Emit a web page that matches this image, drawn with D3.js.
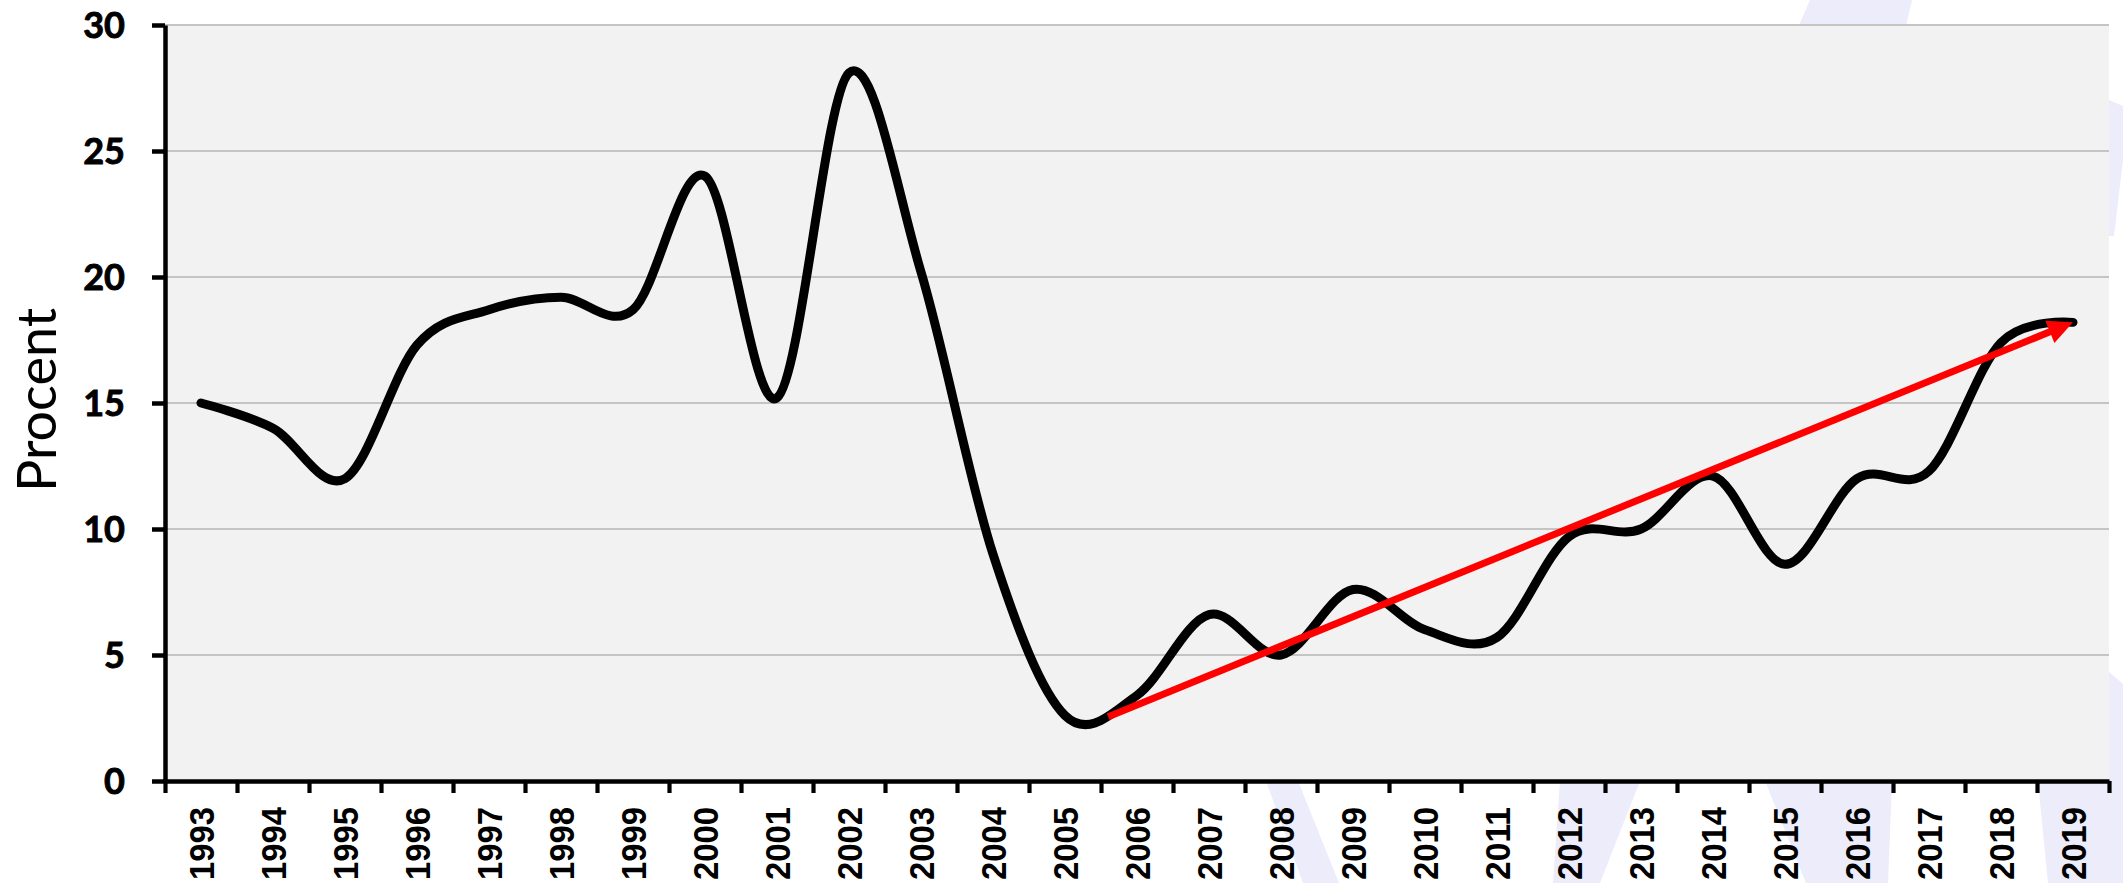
<!DOCTYPE html>
<html><head><meta charset="utf-8">
<script src="https://cdn.jsdelivr.net/npm/d3@7/dist/d3.min.js"></script>
<style>html,body{margin:0;padding:0;background:#fff;overflow:hidden}</style>
</head><body><svg id="chart" width="2123" height="883"></svg>
<script>
// ---- data ----
const years = [1993,1994,1995,1996,1997,1998,1999,2000,2001,2002,2003,2004,2005,2006,
               2007,2008,2009,2010,2011,2012,2013,2014,2015,2016,2017,2018,2019];
const values = [15.0,14.0,12.0,17.3,18.7,19.2,18.7,24.0,15.2,28.1,20.2,9.0,2.6,3.4,
                6.6,5.0,7.6,6.0,5.7,9.7,10.0,12.1,8.6,12.0,12.3,17.4,18.2];
const yTicks = [0,5,10,15,20,25,30];
const trendStart = {year: 2005.6, value: 2.55};
const trendEnd = {year: 2019, value: 18.2};
const yLabel = "Procent";

// ---- layout ----
const W = 2123, H = 883;
const m = {left: 165, right: 2109, top: 25, bottom: 781};
const svg = d3.select('#chart');
svg.append('rect').attr('width', W).attr('height', H).attr('fill', '#fff');

// faint background watermark shapes
const wm = svg.append('g').attr('fill', '#ececfb');
const wmShapes = [
  [[1810,0],[1912,0],[1905,30],[1797,30]],
  [[2109,100],[2123,106],[2123,160],[2114,236],[2109,236]],
  [[2109,672],[2123,684],[2123,883],[2109,883]],
  [[2038,781],[2109,781],[2109,883],[2048,883]],
  [[1765,781],[1892,781],[1888,883],[1806,883]],
  [[1560,781],[1640,781],[1600,883],[1553,883]],
  [[1266,781],[1298,781],[1339,883],[1303,883]]
];
wm.selectAll('path').data(wmShapes).join('path')
  .attr('d', d => 'M' + d.map(p => p.join(',')).join('L') + 'Z');

const x = d3.scaleLinear().domain([years[0] - 0.5, years[years.length - 1] + 0.5]).range([m.left, m.right]);
const y = d3.scaleLinear().domain([0, 30]).range([m.bottom, m.top]);

// plot area
svg.append('rect').attr('x', m.left).attr('y', m.top)
  .attr('width', m.right - m.left).attr('height', m.bottom - m.top).attr('fill', '#f2f2f2');

// gridlines
svg.append('g').selectAll('line').data(yTicks.filter(d => d > 0)).join('line')
  .attr('x1', m.left).attr('x2', m.right)
  .attr('y1', d => y(d)).attr('y2', d => y(d))
  .attr('stroke', '#c4c4c4').attr('stroke-width', 2);

// series line
const pts = years.map((yr, i) => ({year: yr, value: values[i]}));
const line = d3.line().x(d => x(d.year)).y(d => y(d.value)).curve(d3.curveCardinal.tension(0));
svg.append('path').datum(pts).attr('d', line)
  .attr('fill', 'none').attr('stroke', '#000').attr('stroke-width', 9)
  .attr('stroke-linejoin', 'round').attr('stroke-linecap', 'round');

// trend arrow
const x0 = x(trendStart.year), y0 = y(trendStart.value);
const x1 = x(trendEnd.year), y1 = y(trendEnd.value);
const ang = Math.atan2(y1 - y0, x1 - x0);
const hl = 25, hw = 12;
const bx = x1 - hl * Math.cos(ang), by = y1 - hl * Math.sin(ang);
svg.append('line').attr('x1', x0).attr('y1', y0)
  .attr('x2', bx + 2 * Math.cos(ang)).attr('y2', by + 2 * Math.sin(ang))
  .attr('stroke', '#ff0000').attr('stroke-width', 7);
svg.append('path')
  .attr('d', `M${x1},${y1}L${bx + hw * Math.sin(ang)},${by - hw * Math.cos(ang)}L${bx - hw * Math.sin(ang)},${by + hw * Math.cos(ang)}Z`)
  .attr('fill', '#ff0000');

// y axis
const gy = svg.append('g').attr('transform', `translate(${m.left},0)`)
  .call(d3.axisLeft(y).tickValues(yTicks).tickSize(13).tickSizeOuter(0).tickPadding(27));
gy.select('.domain').attr('stroke', '#000').attr('stroke-width', 4.5);
gy.selectAll('.tick line').attr('stroke', '#000').attr('stroke-width', 4.5);
gy.selectAll('.tick text').attr('font-family', 'Lato').attr('font-weight', 'bold')
  .attr('font-size', 36).attr('fill', '#000').attr('dy', '0.36em')
  .attr('stroke', '#000').attr('stroke-width', 0.9);

// x axis (ticks at category boundaries)
const bounds = years.map(d => d - 0.5).concat([years[years.length - 1] + 0.5]);
const gx = svg.append('g').attr('transform', `translate(0,${m.bottom})`)
  .call(d3.axisBottom(x).tickValues(bounds).tickSize(12).tickSizeOuter(0).tickFormat(''));
gx.select('.domain').attr('stroke', '#000').attr('stroke-width', 4.5);
gx.selectAll('.tick line').attr('stroke', '#000').attr('stroke-width', 4.2);

// x labels
svg.append('g').selectAll('text').data(years).join('text')
  .attr('transform', d => `translate(${x(d)},807) rotate(-90)`)
  .attr('text-anchor', 'end').attr('dy', '0.36em')
  .attr('font-family', 'Liberation Sans').attr('font-weight', 'bold').attr('font-size', 35)
  .attr('textLength', 73).attr('lengthAdjust', 'spacingAndGlyphs')
  .attr('fill', '#000')
  .text(d => d);

// y label
svg.append('text').attr('transform', 'translate(56,400) rotate(-90)')
  .attr('text-anchor', 'middle').attr('font-family', 'Lato').attr('font-size', 54)
  .attr('fill', '#000').text(yLabel);
</script>
</body></html>
